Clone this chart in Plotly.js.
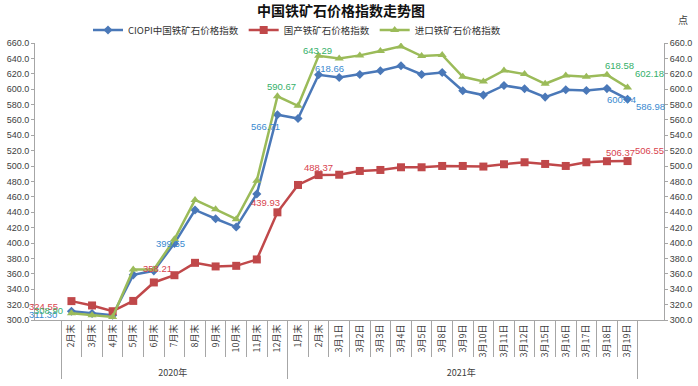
<!DOCTYPE html>
<html>
<head>
<meta charset="utf-8">
<script src="https://cdn.plot.ly/plotly-3.0.1.min.js"></script>
<style>html,body{margin:0;padding:0;background:#fff;}#chart{width:698px;height:386px;}</style>
</head>
<body>
<div id="chart"></div>
<script>
const years = ["2020年","2020年","2020年","2020年","2020年","2020年","2020年","2020年","2020年","2020年","2020年",
  "2021年","2021年","2021年","2021年","2021年","2021年","2021年","2021年","2021年","2021年","2021年","2021年","2021年","2021年","2021年","2021年","2021年"];
// the second "2月末" carries a zero-width space so the two February categories stay distinct
const categories = ["2月末","3月末","4月末","5月末","6月末","7月末","8月末","9月末","10月末","11月末","12月末",
  "1月末","2月末\u200b","3月1日","3月2日","3月3日","3月4日","3月5日","3月8日","3月9日","3月10日","3月11日","3月12日","3月15日","3月16日","3月17日","3月18日","3月19日"];
const ciopi = [311.30,308.4,306.2,358.7,363.9,399.55,443.0,431.6,420.8,463.8,566.71,561.9,618.66,615.2,619.1,623.9,630.4,619.1,621.7,597.9,592.3,604.8,600.5,589.7,599.2,598.3,600.74,586.98];
const domestic = [324.55,318.9,311.4,324.8,348.8,358.21,374.3,369.6,370.4,378.7,439.93,475.5,488.37,488.8,493.7,495.0,498.5,498.5,500.2,500.2,499.4,502.4,505.0,502.8,500.2,505.0,506.37,506.55];
const imported = [308.90,306.2,304.0,365.7,365.7,404.8,456.0,443.8,431.0,481.1,590.67,578.4,643.29,640.0,643.9,649.6,655.6,643.0,644.4,616.1,610.0,624.3,619.6,607.0,617.8,616.1,618.58,602.18];
const seriesNames = ["CIOPI中国铁矿石价格指数","国产铁矿石价格指数","进口铁矿石价格指数"];

const series = [ciopi, domestic, imported];
const lineColors = ["#4a78b8","#c0484a","#9bbb59"];
const labelColors = ["#3a8ad0","#d8434e","#35b06a"];
const symbols = ["diamond","square","triangle-up"];
const msizes = [7,8,8];
// label offsets (px) per series: [index, dx, dy-up]
const labelOffsets = [
  [[0,-3,-3],[5,12,0],[10,-5,-12],[12,14,6],[26,-9,-10.5],[27,-2,-7]],
  [[0,-3,-5],[5,-1,6.5],[10,-5,10],[12,3,7.5],[26,-10,9],[27,-3,11]],
  [[0,2,3],[10,11,9.5],[12,2,5.5],[26,-11,9],[27,-3,13.5]]
];

const traces = series.map((vals, s) => ({
  type: "scatter", mode: "lines+markers", name: seriesNames[s],
  x: [years, categories], y: vals,
  line: {color: lineColors[s], width: 2.5},
  marker: {symbol: symbols[s], size: msizes[s], color: lineColors[s]},
  hoverinfo: "y"
}));
traces.push({type:"scatter", x:[years, categories], y: ciopi, yaxis:"y2", mode:"none", showlegend:false, hoverinfo:"skip", opacity:0});

const N = categories.length;
const annotations = [];
labelOffsets.forEach((list, s) => {
  list.forEach(([i, dx, dy]) => {
    annotations.push({
      xref: "paper", yref: "y", x: (i + 0.5) / N, y: series[s][i],
      text: series[s][i].toFixed(2), showarrow: false,
      xanchor: "center", yanchor: "middle", xshift: dx, yshift: dy,
      font: {family: "Liberation Sans, Arial, sans-serif", size: 9.5, color: labelColors[s]}
    });
  });
});
annotations.push({xref:"paper", yref:"paper", x:(683-35)/629, y:(320-20)/277, text:"点", showarrow:false,
  xanchor:"center", yanchor:"middle", font:{family:"Noto Sans CJK SC", size:10, color:"#404040"}});

const yax = {
  range: [300, 660], dtick: 20, tick0: 300, tickformat: ".1f",
  showgrid: false, zeroline: false, showline: true, linecolor: "#a6a6a6", linewidth: 1,
  ticks: "outside", ticklen: 3, tickcolor: "#a6a6a6",
  tickfont: {family: "Liberation Sans, Arial, sans-serif", size: 9, color: "#404040"}
};

const layout = {
  width: 698, height: 386,
  margin: {l: 35, r: 34, t: 43, b: 66},
  paper_bgcolor: "#fff", plot_bgcolor: "#fff",
  title: {text: "<b>中国铁矿石价格指数走势图</b>", x: 341/698, xanchor: "center", y: 1 - 11/386, yanchor: "middle",
    font: {family: "Noto Sans CJK SC", size: 14, color: "#111"}},
  showlegend: true,
  legend: {orientation: "h", x: (88-35)/629, xanchor: "left", y: (320-30)/277, yanchor: "middle",
    font: {family: "Noto Sans CJK SC", size: 9.5, color: "#333"}, bgcolor: "rgba(0,0,0,0)", itemwidth: 30},
  xaxis: {
    type: "multicategory", showgrid: false, showline: true, linecolor: "#a6a6a6",
    ticks: "outside", tickson: "boundaries", ticklen: 36, tickcolor: "#a6a6a6",
    tickangle: -90, dividercolor: "#a6a6a6", dividerwidth: 1,
    tickfont: {family: "Noto Sans CJK SC", size: 9, color: "#404040"}
  },
  yaxis: Object.assign({}, yax, {side: "left"}),
  yaxis2: Object.assign({}, yax, {side: "right", overlaying: "y"}),
  annotations: annotations
};

Plotly.newPlot("chart", traces, layout, {staticPlot: true});
</script>
</body>
</html>
